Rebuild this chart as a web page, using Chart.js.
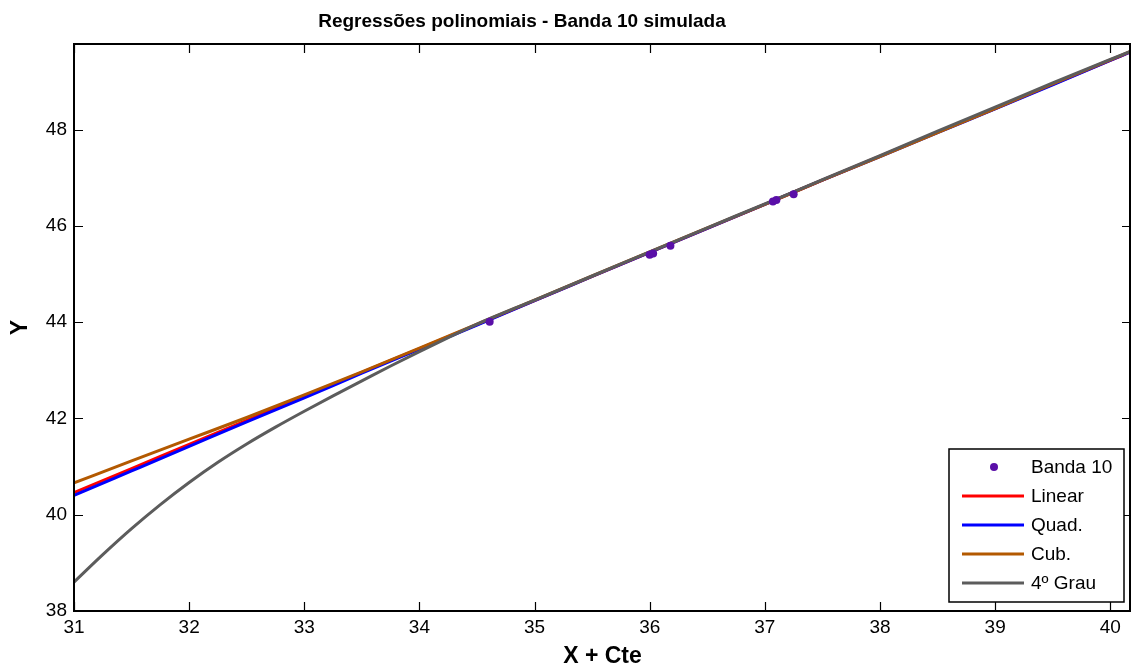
<!DOCTYPE html>
<html>
<head>
<meta charset="utf-8">
<script src="https://cdn.jsdelivr.net/npm/chart.js@4.4.1/dist/chart.umd.min.js"></script>
<style>
  html, body { margin: 0; padding: 0; background: #fff; }
  #wrap { width: 1131px; height: 672px; }
</style>
</head>
<body>
<div id="wrap"><canvas id="chart" width="1131" height="672"></canvas></div>
<script>
// ---- dados ----
var BANDA_X = [34.61, 36.00, 36.03, 36.18, 37.07, 37.10, 37.25];
var BANDA_Y = [44.01, 45.40, 45.43, 45.59, 46.51, 46.54, 46.66];

var X_FIT = [31, 31.5, 32, 32.5, 33, 33.5, 34, 34.5, 35, 35.5, 36, 36.5, 37, 37.5, 38, 38.5, 39, 39.5, 40, 40.18];
var LINEAR_Y = [40.46, 40.96, 41.46, 41.96, 42.46, 42.96, 43.45, 43.95, 44.45, 44.95, 45.45, 45.95, 46.45, 46.95, 47.45, 47.95, 48.44, 48.94, 49.44, 49.62];
var QUAD_Y   = [40.40, 40.91, 41.42, 41.93, 42.43, 42.94, 43.44, 43.94, 44.45, 44.95, 45.45, 45.95, 46.45, 46.95, 47.44, 47.94, 48.43, 48.93, 49.44, 49.62];
var CUB_Y    = [40.66, 41.12, 41.57, 42.02, 42.49, 42.97, 43.46, 43.96, 44.46, 44.96, 45.46, 45.96, 46.45, 46.95, 47.44, 47.94, 48.44, 48.95, 49.45, 49.63];

var X_GRAU4 = [31, 31.25, 31.5, 31.75, 32, 32.25, 32.5, 32.75, 33, 33.25, 33.5, 33.75, 34, 34.25, 34.5, 35, 35.5, 36, 36.5, 37, 37.5, 38, 38.5, 39, 39.5, 40, 40.18];
var GRAU4_Y = [38.60, 39.17, 39.71, 40.21, 40.67, 41.09, 41.47, 41.82, 42.15, 42.47, 42.78, 43.09, 43.39, 43.68, 43.96, 44.46, 44.96, 45.46, 45.96, 46.46, 46.96, 47.46, 47.97, 48.47, 48.97, 49.46, 49.63];

var X_TICK_STEP = 1, Y_TICK_STEP = 2;
var TITLE = 'Regressões polinomiais - Banda 10 simulada';

var COLORS = { pts: '#5a0fa8', linear: '#ff0000', quad: '#0000ff', cub: '#b35900', grau4: '#5c5c5c' };
var FONT = "'Liberation Sans', Arial, sans-serif";

function xy(xs, ys) { return xs.map(function(x, i) { return { x: x, y: ys[i] }; }); }

// eixo x vai ate a borda direita do canvas
var fillRightPlugin = {
  id: 'fillRight',
  afterLayout: function(chart) {
    var xs = chart.scales.x, a = chart.chartArea;
    a.right = chart.width; a.width = a.right - a.left;
    xs.right = chart.width; xs.width = xs.right - xs.left;
    xs.configure();
  }
};

// moldura estilo matlab: caixa + ticks para dentro nos 4 lados
var framePlugin = {
  id: 'frame',
  afterDraw: function(chart) {
    var ctx = chart.ctx, a = chart.chartArea;
    var xs = chart.scales.x, ys = chart.scales.y, L = 9;
    ctx.save();
    ctx.strokeStyle = '#000'; ctx.lineWidth = 2;
    ctx.strokeRect(a.left, a.top, a.right - a.left - 1, a.bottom - a.top);
    ctx.lineWidth = 1.2;
    ctx.beginPath();
    xs.ticks.forEach(function(t) {
      var px = Math.round(xs.getPixelForValue(t.value)) + 0.5;
      ctx.moveTo(px, a.bottom); ctx.lineTo(px, a.bottom - L);
      ctx.moveTo(px, a.top); ctx.lineTo(px, a.top + L);
    });
    ys.ticks.forEach(function(t) {
      var py = Math.round(ys.getPixelForValue(t.value)) + 0.5;
      ctx.moveTo(a.left, py); ctx.lineTo(a.left + L, py);
      ctx.moveTo(a.right, py); ctx.lineTo(a.right - L, py);
    });
    ctx.stroke();
    // titulo
    ctx.fillStyle = '#000'; ctx.font = 'bold 19px ' + FONT;
    ctx.textAlign = 'center'; ctx.textBaseline = 'alphabetic';
    ctx.fillText(TITLE, 522, 27);
    ctx.restore();
  }
};

// legenda dentro do grafico, canto inferior direito
var legendPlugin = {
  id: 'boxLegend',
  afterDraw: function(chart) {
    var ctx = chart.ctx;
    var bx = 949, by = 449, bw = 175, bh = 153, rowH = 29;
    ctx.save();
    ctx.fillStyle = '#fff'; ctx.fillRect(bx, by, bw, bh);
    ctx.strokeStyle = '#000'; ctx.lineWidth = 1.5; ctx.strokeRect(bx, by, bw, bh);
    ctx.font = '19px ' + FONT; ctx.textBaseline = 'middle'; ctx.textAlign = 'left';
    chart.data.datasets.forEach(function(ds, i) {
      var y = by + 18 + i * rowH;
      if (ds.showLine === false) {
        ctx.fillStyle = ds.backgroundColor;
        ctx.beginPath(); ctx.arc(994, y, 4, 0, Math.PI * 2); ctx.fill();
      } else {
        ctx.strokeStyle = ds.borderColor; ctx.lineWidth = 3;
        ctx.beginPath(); ctx.moveTo(962, y); ctx.lineTo(1024, y); ctx.stroke();
      }
      ctx.fillStyle = '#000';
      ctx.fillText(ds.label, 1031, y + 1);
    });
    ctx.restore();
  }
};

function lineDs(label, data, color, order) {
  return { label: label, data: data, borderColor: color, backgroundColor: color, borderWidth: 3,
           pointRadius: 0, showLine: true, cubicInterpolationMode: 'monotone', order: order };
}

new Chart(document.getElementById('chart').getContext('2d'), {
  type: 'scatter',
  data: {
    datasets: [
      { label: 'Banda 10', data: xy(BANDA_X, BANDA_Y), showLine: false, pointRadius: 4,
        backgroundColor: COLORS.pts, borderColor: COLORS.pts, borderWidth: 0, order: 0 },
      lineDs('Linear', xy(X_FIT, LINEAR_Y), COLORS.linear, 4),
      lineDs('Quad.', xy(X_FIT, QUAD_Y), COLORS.quad, 3),
      lineDs('Cub.', xy(X_FIT, CUB_Y), COLORS.cub, 2),
      lineDs('4º Grau', xy(X_GRAU4, GRAU4_Y), COLORS.grau4, 1)
    ]
  },
  options: {
    responsive: false, animation: false, devicePixelRatio: 1,
    layout: { padding: { top: 44, right: 0, left: 0, bottom: 0 } },
    plugins: { legend: { display: false }, tooltip: { enabled: false } },
    scales: {
      x: {
        type: 'linear', position: 'bottom', min: 31, max: 40.18,
        grid: { display: false, drawTicks: false }, border: { display: false },
        ticks: { stepSize: X_TICK_STEP, includeBounds: false, autoSkip: false, maxRotation: 0,
                 padding: 5, color: '#000', font: { family: FONT, size: 19 } },
        title: { display: true, text: 'X + Cte', color: '#000', padding: { top: 0, bottom: 2 },
                 font: { family: FONT, size: 23, weight: 'bold' } },
        afterFit: function(s) { s.height = 61; }
      },
      y: {
        type: 'linear', position: 'left', min: 38, max: 49.78,
        grid: { display: false, drawTicks: false }, border: { display: false },
        ticks: { stepSize: Y_TICK_STEP, includeBounds: false, padding: 7, color: '#000',
                 font: { family: FONT, size: 19 } },
        title: { display: true, text: 'Y', color: '#000', padding: { top: 7, bottom: 0 },
                 font: { family: FONT, size: 23, weight: 'bold' } },
        afterFit: function(s) { s.width = 74; }
      }
    }
  },
  plugins: [fillRightPlugin, framePlugin, legendPlugin]
});
</script>
</body>
</html>
